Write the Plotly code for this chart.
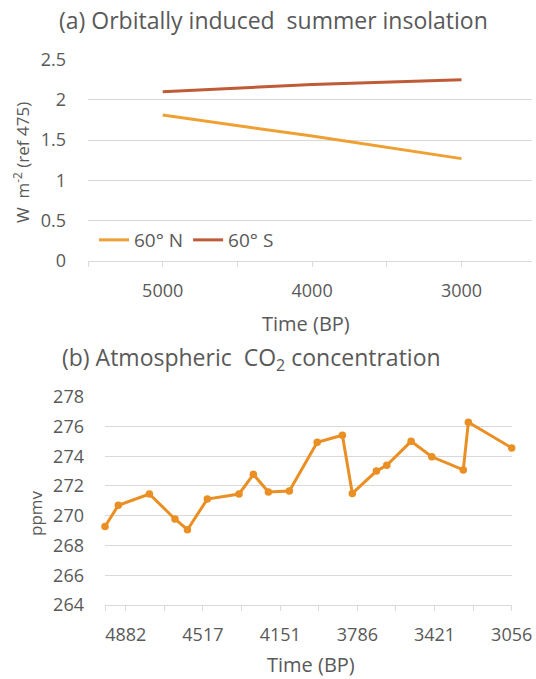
import plotly.graph_objects as go

# ---- Data ----
# (a) Orbitally induced summer insolation (W m-2, ref 475)
ins_time = [5000, 4000, 3000]
ins_60N = [1.81, 1.55, 1.27]
ins_60S = [2.10, 2.19, 2.25]
ins_xticks = [5000, 4000, 3000]

# (b) Atmospheric CO2 concentration (ppmv)
co2_time = [4980, 4917, 4770, 4649, 4590, 4496, 4346, 4278, 4207, 4108,
            3976, 3857, 3810, 3696, 3647, 3532, 3434, 3285, 3261, 3056]
co2_ppmv = [269.28, 270.70, 271.46, 269.78, 269.06, 271.12, 271.46, 272.78, 271.60, 271.66,
            274.94, 275.41, 271.50, 273.00, 273.39, 275.00, 273.96, 273.08, 276.29, 274.56]
co2_xtick_labels = [4882, 4517, 4151, 3786, 3421, 3056]

OFF = 0
W, H = 536, 679
FONT = "Open Sans"
GRAY = "#595959"
GRID = "#D9D9D9"
C_N = "#EFA032"
C_S = "#BF5B36"
C_CO2 = "#E98F24"

def px_x(p):
    return (p - OFF) / W

def px_y(p):
    return 1 - (p - OFF) / H

fig = go.Figure()

fig.add_trace(go.Scatter(x=ins_time, y=ins_60N, mode="lines", name="60° N",
                         line=dict(color=C_N, width=3), xaxis="x", yaxis="y"))
fig.add_trace(go.Scatter(x=ins_time, y=ins_60S, mode="lines", name="60° S",
                         line=dict(color=C_S, width=3), xaxis="x", yaxis="y"))
fig.add_trace(go.Scatter(x=co2_time, y=co2_ppmv, mode="lines+markers", showlegend=False,
                         line=dict(color=C_CO2, width=3),
                         marker=dict(color=C_CO2, size=7.5),
                         cliponaxis=False, xaxis="x2", yaxis="y2"))

# unlabelled ticks halfway between the labelled ones
b_minor = [(co2_xtick_labels[i] + co2_xtick_labels[i + 1]) / 2
           for i in range(len(co2_xtick_labels) - 1)] + [4980]

tickfont = dict(family=FONT, size=18, color=GRAY)

fig.update_layout(
    width=W, height=H,
    margin=dict(l=0, r=0, t=0, b=0, autoexpand=False),
    paper_bgcolor="white", plot_bgcolor="white",
    font=dict(family=FONT, color=GRAY),
    xaxis=dict(domain=[px_x(88), min(1, px_x(532))], anchor="y",
               range=[5500, 2528], tickvals=ins_xticks,
               ticks="outside", ticklen=5, tickcolor=GRID,
               minor=dict(tickvals=[5500, 4500, 3500], ticks="outside", ticklen=5, tickcolor=GRID),
               showline=True, linecolor=GRID, linewidth=1,
               showgrid=False, zeroline=False, tickfont=tickfont,
               ticklabelstandoff=8, automargin=False),
    yaxis=dict(domain=[px_y(261), px_y(59.5)], anchor="x",
               range=[0, 2.5], dtick=0.5,
               showgrid=True, gridcolor=GRID, gridwidth=1,
               zeroline=False, showline=False, ticks="",
               tickfont=tickfont, ticklabelstandoff=21, automargin=False),
    xaxis2=dict(domain=[px_x(105), px_x(511.7)], anchor="y2",
                range=[4980, 3056], tickvals=co2_xtick_labels,
                ticks="outside", ticklen=5, tickcolor=GRID,
                minor=dict(tickvals=b_minor, ticks="outside", ticklen=5, tickcolor=GRID),
                showline=True, linecolor=GRID, linewidth=1,
                showgrid=False, zeroline=False, tickfont=tickfont,
                ticklabelstandoff=8, ticklabeloverflow="allow", automargin=False),
    yaxis2=dict(domain=[px_y(605), px_y(396.7)], anchor="x2",
                range=[264, 278], dtick=2,
                showgrid=True, gridcolor=GRID, gridwidth=1,
                zeroline=False, showline=False, ticks="",
                tickfont=tickfont, ticklabelstandoff=20, automargin=False),
    legend=dict(orientation="h", x=px_x(94), y=px_y(240), xanchor="left", yanchor="middle",
                bgcolor="rgba(0,0,0,0)", font=dict(family=FONT, size=19, color=GRAY),
                itemwidth=30, tracegroupgap=0),
    showlegend=True,
)

ann = [
    dict(text="(a) Orbitally induced  summer insolation", x=px_x(273), y=px_y(20), size=23),
    dict(text="Time (BP)", x=px_x(306), y=px_y(323), size=20),
    dict(text="(b) Atmospheric  CO<sub>2</sub> concentration", x=px_x(251), y=px_y(358), size=23),
    dict(text="Time (BP)", x=px_x(311), y=px_y(664), size=20),
]
for a in ann:
    fig.add_annotation(text=a["text"], x=a["x"], y=a["y"], xref="paper", yref="paper",
                       xanchor="center", yanchor="middle", showarrow=False,
                       font=dict(family=FONT, size=a["size"], color=GRAY))

fig.add_annotation(text="W  m<sup>-2</sup> (ref 475)", x=px_x(21), y=px_y(163), xref="paper", yref="paper",
                   xanchor="center", yanchor="middle", showarrow=False, textangle=-90,
                   font=dict(family=FONT, size=17, color=GRAY))
fig.add_annotation(text="ppmv", x=px_x(35), y=px_y(513), xref="paper", yref="paper",
                   xanchor="center", yanchor="middle", showarrow=False, textangle=-90,
                   font=dict(family=FONT, size=17, color=GRAY))

fig.write_html("out.html", config={"displayModeBar": False},
               post_script="document.body.style.margin='0';document.body.style.overflow='hidden';")
